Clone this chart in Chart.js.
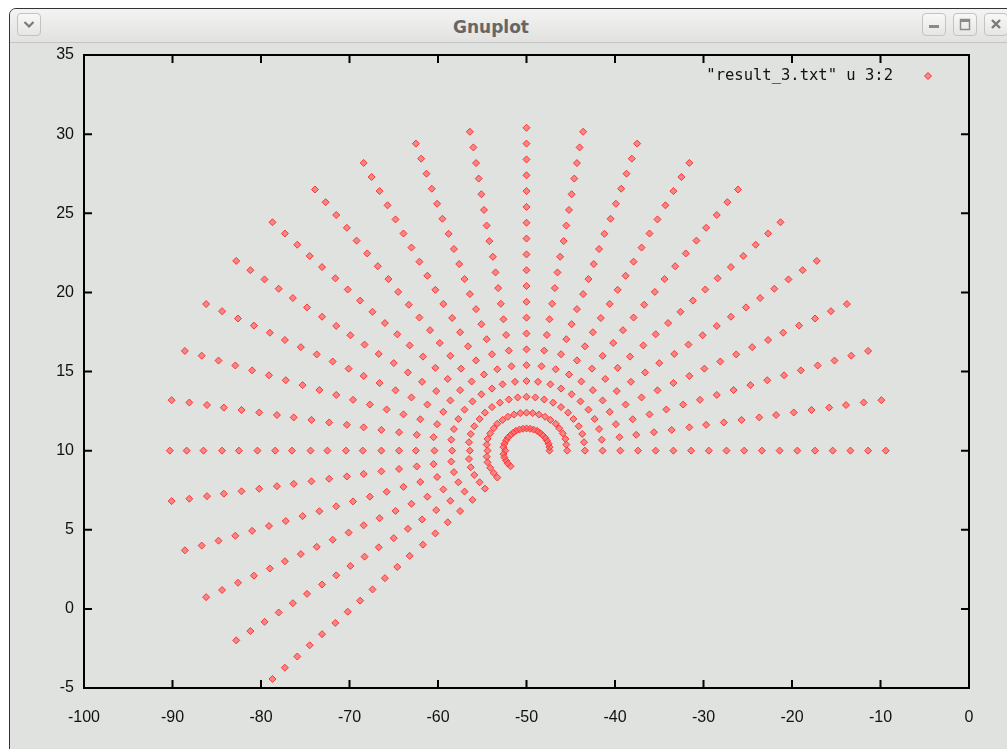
<!DOCTYPE html>
<html>
<head>
<meta charset="utf-8">
<title>Gnuplot</title>
<script src="https://cdn.jsdelivr.net/npm/chart.js@4.4.1/dist/chart.umd.min.js"></script>
<style>
  html, body { margin: 0; padding: 0; background: #fff; width: 1007px; height: 749px; overflow: hidden; }
  .win {
    position: absolute; left: 9px; top: 8px; width: 1100px; height: 760px;
    border: 1.5px solid #333; border-top-left-radius: 7px;
    background: #dfe2de; box-sizing: border-box; overflow: hidden;
  }
  .titlebar {
    position: absolute; left: 0; top: 0; right: 0; height: 33px;
    background: linear-gradient(#f3f3f2, #e2e2e1);
    border-bottom: 1px solid #c6c6c4;
  }
  .title {
    position: absolute; left: 0; top: 9px; width: 982px; text-align: center;
    font: bold 17px "DejaVu Sans", sans-serif; color: #666; line-height: 36px;
  }
  .btn {
    position: absolute; top: 13px; width: 24px; height: 23px; box-sizing: border-box;
    border: 1px solid #c3c3c1; border-radius: 4px;
    background: linear-gradient(#f8f8f7, #e6e6e5);
  }
  .btn svg { position: absolute; left: 0; top: 0; }
  canvas { position: absolute; left: 0; top: 0; }
</style>
</head>
<body>
<div class="win"><div class="titlebar"></div></div>
<div class="title">Gnuplot</div>
<div class="btn" style="left:17px"><svg width="22" height="21"><path d="M6.5 8 L11 12.5 L15.5 8" stroke="#7a7a7a" stroke-width="2.2" fill="none"/></svg></div>
<div class="btn" style="left:922px"><svg width="22" height="21"><rect x="6" y="11" width="10" height="3" fill="#8a8a8a"/></svg></div>
<div class="btn" style="left:953px"><svg width="22" height="21"><rect x="6.5" y="5.5" width="9" height="10" stroke="#8a8a8a" stroke-width="1.5" fill="none"/><rect x="6" y="5" width="10" height="3" fill="#8a8a8a"/></svg></div>
<div class="btn" style="left:984px"><svg width="22" height="21"><path d="M7 6 L15 14 M15 6 L7 14" stroke="#7a7a7a" stroke-width="2.4"/></svg></div>
<canvas id="plot" width="1007" height="749"></canvas>
<script>
// "result_3.txt" u 3:2 -> column 3 on x, column 2 on y, one list per ray
const keyLabel = '"result_3.txt" u 3:2';
const xMin = -100, xMax = 0, xStep = 10;
const yMin = -5, yMax = 35, yStep = 5;

const col3 = [
  [-47.4,-45.4,-43.4,-41.4,-39.4,-37.4,-35.4,-33.4,-31.4,-29.4,-27.4,-25.4,-23.4,-21.4,-19.4,-17.4,-15.4,-13.4,-11.4,-9.4],
  [-47.4,-45.5,-43.5,-41.5,-39.5,-37.6,-35.6,-33.6,-31.6,-29.7,-27.7,-25.7,-23.7,-21.8,-19.8,-17.8,-15.8,-13.9,-11.9,-9.9],
  [-47.5,-45.6,-43.7,-41.8,-39.9,-38.0,-36.1,-34.2,-32.3,-30.4,-28.5,-26.6,-24.7,-22.8,-20.9,-19.0,-17.1,-15.2,-13.3,-11.4],
  [-47.7,-45.9,-44.1,-42.3,-40.6,-38.8,-37.0,-35.2,-33.4,-31.6,-29.9,-28.1,-26.3,-24.5,-22.7,-21.0,-19.2,-17.4,-15.6,-13.8],
  [-47.9,-46.3,-44.7,-43.0,-41.4,-39.8,-38.2,-36.6,-35.0,-33.3,-31.7,-30.1,-28.5,-26.9,-25.2,-23.6,-22.0,-20.4,-18.8,-17.2],
  [-48.2,-46.7,-45.3,-43.9,-42.5,-41.1,-39.7,-38.3,-36.8,-35.4,-34.0,-32.6,-31.2,-29.8,-28.4,-26.9,-25.5,-24.1,-22.7,-21.3],
  [-48.5,-47.3,-46.1,-44.9,-43.8,-42.6,-41.4,-40.2,-39.1,-37.9,-36.7,-35.5,-34.4,-33.2,-32.0,-30.8,-29.7,-28.5,-27.3,-26.1],
  [-48.8,-47.9,-47.0,-46.1,-45.2,-44.3,-43.4,-42.5,-41.6,-40.6,-39.7,-38.8,-37.9,-37.0,-36.1,-35.2,-34.3,-33.4,-32.5,-31.6],
  [-49.2,-48.6,-48.0,-47.3,-46.7,-46.1,-45.5,-44.9,-44.3,-43.6,-43.0,-42.4,-41.8,-41.2,-40.5,-39.9,-39.3,-38.7,-38.1,-37.5],
  [-49.6,-49.3,-49.0,-48.7,-48.3,-48.0,-47.7,-47.4,-47.1,-46.8,-46.5,-46.2,-45.8,-45.5,-45.2,-44.9,-44.6,-44.3,-44.0,-43.6],
  [-50,-50,-50,-50,-50,-50,-50,-50,-50,-50,-50,-50,-50,-50,-50,-50,-50,-50,-50,-50],
  [-50.4,-50.7,-51.0,-51.3,-51.7,-52.0,-52.3,-52.6,-52.9,-53.2,-53.5,-53.8,-54.2,-54.5,-54.8,-55.1,-55.4,-55.7,-56.0,-56.4],
  [-50.8,-51.4,-52.0,-52.7,-53.3,-53.9,-54.5,-55.1,-55.7,-56.4,-57.0,-57.6,-58.2,-58.8,-59.5,-60.1,-60.7,-61.3,-61.9,-62.5],
  [-51.2,-52.1,-53.0,-53.9,-54.8,-55.7,-56.6,-57.5,-58.4,-59.4,-60.3,-61.2,-62.1,-63.0,-63.9,-64.8,-65.7,-66.6,-67.5,-68.4],
  [-51.5,-52.7,-53.9,-55.1,-56.2,-57.4,-58.6,-59.8,-60.9,-62.1,-63.3,-64.5,-65.6,-66.8,-68.0,-69.2,-70.3,-71.5,-72.7,-73.9],
  [-51.8,-53.3,-54.7,-56.1,-57.5,-58.9,-60.3,-61.7,-63.2,-64.6,-66.0,-67.4,-68.8,-70.2,-71.6,-73.1,-74.5,-75.9,-77.3,-78.7],
  [-52.1,-53.7,-55.3,-57.0,-58.6,-60.2,-61.8,-63.4,-65.0,-66.7,-68.3,-69.9,-71.5,-73.1,-74.8,-76.4,-78.0,-79.6,-81.2,-82.8],
  [-52.3,-54.1,-55.9,-57.7,-59.4,-61.2,-63.0,-64.8,-66.6,-68.4,-70.1,-71.9,-73.7,-75.5,-77.3,-79.0,-80.8,-82.6,-84.4,-86.2],
  [-52.5,-54.4,-56.3,-58.2,-60.1,-62.0,-63.9,-65.8,-67.7,-69.6,-71.5,-73.4,-75.3,-77.2,-79.1,-81.0,-82.9,-84.8,-86.7,-88.6],
  [-52.6,-54.5,-56.5,-58.5,-60.5,-62.4,-64.4,-66.4,-68.4,-70.3,-72.3,-74.3,-76.3,-78.2,-80.2,-82.2,-84.2,-86.1,-88.1,-90.1],
  [-52.4,-54.4,-56.4,-58.4,-60.4,-62.5,-64.4,-66.4,-68.5,-70.4,-72.5,-74.4,-76.5,-78.4,-80.4,-82.5,-84.4,-86.5,-88.4,-90.3],
  [-52.6,-54.5,-56.5,-58.5,-60.5,-62.4,-64.4,-66.4,-68.4,-70.3,-72.3,-74.3,-76.3,-78.2,-80.2,-82.2,-84.2,-86.1,-88.1,-90.1],
  [-52.5,-54.4,-56.3,-58.2,-60.1,-62.0,-63.9,-65.8,-67.7,-69.6,-71.5,-73.4,-75.3,-77.2,-79.1,-81.0,-82.9,-84.8,-86.7,-88.6],
  [-52.3,-54.1,-55.9,-57.7,-59.4,-61.2,-63.0,-64.8,-66.6,-68.4,-70.1,-71.9,-73.7,-75.5,-77.3,-79.0,-80.8,-82.6,-84.4,-86.2],
  [-52.1,-53.7,-55.3,-57.0,-58.6,-60.2,-61.8,-63.4,-65.0,-66.7,-68.3,-69.9,-71.5,-73.1,-74.8,-76.4,-78.0,-79.6,-81.2,-82.8],
  [-51.8,-53.3,-54.7,-56.1,-57.5,-58.9,-60.3,-61.7,-63.2,-64.6,-66.0,-67.4,-68.8,-70.2,-71.6,-73.1,-74.5,-75.9,-77.3,-78.7]
];

const col2 = [
  [10,10,10,10,10,10,10,10,10,10,10,10,10,10,10,10,10,10,10,10],
  [10.22,10.38,10.53,10.69,10.85,11.0,11.16,11.31,11.47,11.63,11.78,11.94,12.1,12.25,12.41,12.57,12.72,12.88,13.04,13.19],
  [10.43,10.74,11.05,11.36,11.67,11.98,12.29,12.6,12.91,13.21,13.52,13.83,14.14,14.45,14.76,15.07,15.38,15.69,16.0,16.3],
  [10.64,11.09,11.54,12.0,12.45,12.91,13.36,13.81,14.27,14.72,15.18,15.63,16.08,16.54,16.99,17.45,17.9,18.35,18.81,19.26],
  [10.82,11.41,12.0,12.59,13.17,13.76,14.35,14.94,15.53,16.11,16.7,17.29,17.88,18.46,19.05,19.64,20.23,20.82,21.4,21.99],
  [10.99,11.7,12.4,13.11,13.82,14.53,15.23,15.94,16.65,17.35,18.06,18.77,19.48,20.18,20.89,21.6,22.3,23.01,23.72,24.43],
  [11.13,11.94,12.75,13.56,14.37,15.18,15.99,16.8,17.61,18.41,19.22,20.03,20.84,21.65,22.46,23.27,24.08,24.89,25.7,26.5],
  [11.25,12.14,13.03,13.92,14.81,15.7,16.59,17.48,18.38,19.27,20.16,21.05,21.94,22.83,23.72,24.61,25.5,26.4,27.29,28.18],
  [11.33,12.28,13.23,14.19,15.14,16.09,17.04,17.99,18.94,19.89,20.84,21.79,22.74,23.7,24.65,25.6,26.55,27.5,28.45,29.4],
  [11.38,12.37,13.36,14.35,15.33,16.32,17.31,18.3,19.28,20.27,21.26,22.25,23.24,24.22,25.21,26.2,27.19,28.17,29.16,30.15],
  [11.4,12.4,13.4,14.4,15.4,16.4,17.4,18.4,19.4,20.4,21.4,22.4,23.4,24.4,25.4,26.4,27.4,28.4,29.4,30.4],
  [11.38,12.37,13.36,14.35,15.33,16.32,17.31,18.3,19.28,20.27,21.26,22.25,23.24,24.22,25.21,26.2,27.19,28.17,29.16,30.15],
  [11.33,12.28,13.23,14.19,15.14,16.09,17.04,17.99,18.94,19.89,20.84,21.79,22.74,23.7,24.65,25.6,26.55,27.5,28.45,29.4],
  [11.25,12.14,13.03,13.92,14.81,15.7,16.59,17.48,18.38,19.27,20.16,21.05,21.94,22.83,23.72,24.61,25.5,26.4,27.29,28.18],
  [11.13,11.94,12.75,13.56,14.37,15.18,15.99,16.8,17.61,18.41,19.22,20.03,20.84,21.65,22.46,23.27,24.08,24.89,25.7,26.5],
  [10.99,11.7,12.4,13.11,13.82,14.53,15.23,15.94,16.65,17.35,18.06,18.77,19.48,20.18,20.89,21.6,22.3,23.01,23.72,24.43],
  [10.82,11.41,12.0,12.59,13.17,13.76,14.35,14.94,15.53,16.11,16.7,17.29,17.88,18.46,19.05,19.64,20.23,20.82,21.4,21.99],
  [10.64,11.09,11.54,12.0,12.45,12.91,13.36,13.81,14.27,14.72,15.18,15.63,16.08,16.54,16.99,17.45,17.9,18.35,18.81,19.26],
  [10.43,10.74,11.05,11.36,11.67,11.98,12.29,12.6,12.91,13.21,13.52,13.83,14.14,14.45,14.76,15.07,15.38,15.69,16.0,16.3],
  [10.22,10.38,10.53,10.69,10.85,11.0,11.16,11.31,11.47,11.63,11.78,11.94,12.1,12.25,12.41,12.57,12.72,12.88,13.04,13.19],
  [10,10,10,10,10,10,10,10,10,10,10,10,10,10,10,10,10,10,10,10],
  [9.78,9.62,9.47,9.31,9.15,9.0,8.84,8.69,8.53,8.37,8.22,8.06,7.9,7.75,7.59,7.43,7.28,7.12,6.96,6.81],
  [9.57,9.26,8.95,8.64,8.33,8.02,7.71,7.4,7.09,6.79,6.48,6.17,5.86,5.55,5.24,4.93,4.62,4.31,4.0,3.7],
  [9.36,8.91,8.46,8.0,7.55,7.09,6.64,6.19,5.73,5.28,4.82,4.37,3.92,3.46,3.01,2.55,2.1,1.65,1.19,0.74],
  [9.18,8.59,8.0,7.41,6.83,6.24,5.65,5.06,4.47,3.89,3.3,2.71,2.12,1.54,0.95,0.36,-0.23,-0.82,-1.4,-1.99],
  [9.01,8.3,7.6,6.89,6.18,5.47,4.77,4.06,3.35,2.65,1.94,1.23,0.52,-0.18,-0.89,-1.6,-2.3,-3.01,-3.72,-4.43]
];

const points = [];
col3.forEach((xs, r) => xs.forEach((x, i) => points.push({ x: x, y: col2[r][i] })));

const tickFont = { family: '"Liberation Sans", Arial, sans-serif', size: 16 };

// gnuplot style border with ticks pointing inwards on all four sides
const frame = {
  id: 'frame',
  afterDatasetsDraw(chart) {
    const { ctx, chartArea: a, scales } = chart;
    const tl = 8;
    ctx.save();
    ctx.strokeStyle = '#000';
    ctx.lineWidth = 2;
    ctx.beginPath();
    scales.x.ticks.forEach(t => {
      const px = scales.x.getPixelForValue(t.value);
      ctx.moveTo(px, a.bottom); ctx.lineTo(px, a.bottom - tl);
      ctx.moveTo(px, a.top); ctx.lineTo(px, a.top + tl);
    });
    scales.y.ticks.forEach(t => {
      const py = scales.y.getPixelForValue(t.value);
      ctx.moveTo(a.left, py); ctx.lineTo(a.left + tl, py);
      ctx.moveTo(a.right, py); ctx.lineTo(a.right - tl, py);
    });
    ctx.stroke();
    ctx.strokeRect(a.left, a.top, a.right - a.left, a.bottom - a.top);
    ctx.restore();
  }
};

// key in the top right corner: text first, sample point after it
const key = {
  id: 'key',
  afterDraw(chart) {
    const { ctx, chartArea: a } = chart;
    const ds = chart.data.datasets[0];
    const y = a.top + 21;
    ctx.save();
    ctx.font = '15.5px "DejaVu Sans Mono", monospace';
    ctx.fillStyle = '#111';
    ctx.textAlign = 'right';
    ctx.textBaseline = 'middle';
    ctx.fillText(ds.label, a.right - 76, y);
    ctx.fillStyle = ds.backgroundColor;
    ctx.strokeStyle = ds.borderColor;
    ctx.lineWidth = ds.borderWidth;
    Chart.helpers.drawPoint(ctx, { pointStyle: ds.pointStyle, radius: ds.pointRadius, rotation: 0, borderWidth: ds.borderWidth }, a.right - 41, y);
    ctx.restore();
  }
};

new Chart(document.getElementById('plot'), {
  type: 'scatter',
  data: {
    datasets: [{
      label: keyLabel,
      data: points,
      pointStyle: 'rectRot',
      pointRadius: 3.5,
      backgroundColor: 'rgba(255,95,95,0.7)',
      borderColor: 'rgba(255,40,40,0.9)',
      borderWidth: 1
    }]
  },
  options: {
    responsive: false,
    animation: false,
    devicePixelRatio: 1,
    layout: { padding: { left: 0, top: 55, right: 38, bottom: 0 } },
    plugins: { legend: { display: false }, tooltip: { enabled: false } },
    scales: {
      x: {
        type: 'linear', position: 'bottom', min: xMin, max: xMax,
        ticks: { stepSize: xStep, color: '#111', font: tickFont, padding: 20, maxRotation: 0, autoSkip: false },
        grid: { display: false, drawTicks: false },
        border: { display: false },
        afterFit(s) { s.height = 61; }
      },
      y: {
        type: 'linear', position: 'left', min: yMin, max: yMax,
        ticks: { stepSize: yStep, color: '#111', font: tickFont, padding: 10, autoSkip: false },
        grid: { display: false, drawTicks: false },
        border: { display: false },
        afterFit(s) { s.width = 84; }
      }
    }
  },
  plugins: [frame, key]
});
</script>
</body>
</html>
